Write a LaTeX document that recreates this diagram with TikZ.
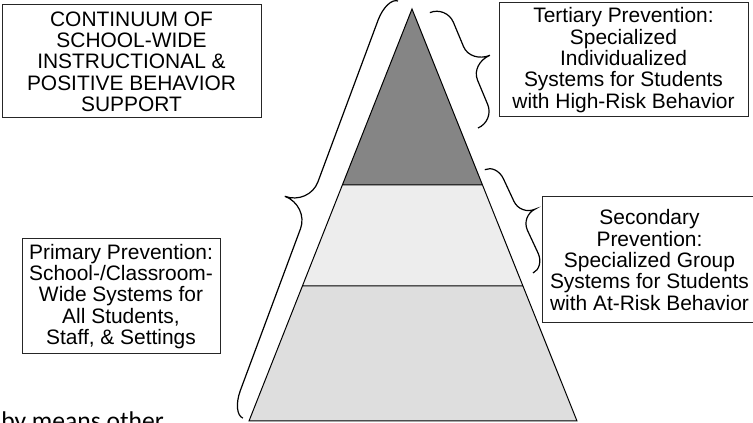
\documentclass[tikz,border=0pt]{standalone}
\usepackage{fontspec}
\setmainfont{Liberation Sans}
\newfontfamily\pagefont{Carlito}
\usetikzlibrary{calc}
\definecolor{tiertop}{gray}{0.52}
\definecolor{tiermid}{gray}{0.93}
\definecolor{tierlow}{gray}{0.87}
\newcommand{\bracepath}[4]{%
  (0,0) .. controls (0,0.55*#2) and (0.45*#4,#2) .. (#4,#2)
  -- (0.5*#1-#4,#2) .. controls (0.5*#1-0.45*#4,#2) and (0.5*#1,#3-0.55*#3+0.55*#2) .. (0.5*#1,#3)
  .. controls (0.5*#1,#3-0.55*#3+0.55*#2) and (0.5*#1+0.45*#4,#2) .. (0.5*#1+#4,#2)
  -- (#1-#4,#2) .. controls (#1-0.45*#4,#2) and (#1,0.55*#2) .. (#1,0)
}

\begin{document}
\begin{tikzpicture}[x=0.75pt,y=-0.75pt,
   boxnode/.style={draw=black!85,line width=0.75pt,align=center,inner sep=0pt,
     font=\fontsize{15.7}{16}\selectfont},
   bracestroke/.style={line width=0.9pt}]
   \useasboundingbox (0,0) rectangle (753,423);
   \clip (0,0) rectangle (753,423);
   \coordinate (apex) at (412,9);
   \coordinate (bl) at (249,421);
   \coordinate (br) at (577,421);
   \coordinate (ul) at ($(apex)!0.427!(bl)$);
   \coordinate (ur) at ($(apex)!0.427!(br)$);
   \coordinate (ml) at ($(apex)!0.672!(bl)$);
   \coordinate (mr) at ($(apex)!0.672!(br)$);
   \fill[tierlow] (ml) -- (mr) -- (br) -- (bl) -- cycle;
   \fill[tiermid] (ul) -- (ur) -- (mr) -- (ml) -- cycle;
   \fill[tiertop] (apex) -- (ur) -- (ul) -- cycle;
   \draw[line width=0.75pt] (apex) -- (br) -- (bl) -- cycle (ul) -- (ur) (ml) -- (mr);
   \draw[bracestroke, shift={(398,1)}, rotate=-110.4] \bracepath{445}{12}{38}{25};
   \draw[bracestroke, shift={(478,128)}, rotate=112.65] \bracepath{125}{18}{39}{18};
   \draw[bracestroke, shift={(533,273)}, rotate=115] \bracepath{114}{13}{29}{16};
   \node[boxnode, minimum width=194.25pt, minimum height=84.75pt] (title) at (131.5,61.5)
     {CONTINUUM OF\\SCHOOL-WIDE\\INSTRUCTIONAL \&\\POSITIVE BEHAVIOR\\SUPPORT};
   \node[boxnode, minimum width=186.75pt, minimum height=85.5pt] (tertiary) at (623.5,60)
     {Tertiary Prevention:\\Specialized\\Individualized\\Systems for Students\\with High-Risk Behavior};
   \node[boxnode, minimum width=161.25pt, minimum height=94.5pt] (secondary) at (649.5,260)
     {Secondary\\Prevention:\\Specialized Group\\Systems for Students\\with At-Risk Behavior};
   \node[boxnode, minimum width=148.5pt, minimum height=86.25pt] (primary) at (121,296.5)
     {Primary Prevention:\\School-/Classroom-\\Wide Systems for\\All Students,\\Staff, \& Settings};
   \node[anchor=base west, inner sep=0pt, font=\pagefont\fontsize{19.2}{20}\selectfont]
     (pagetext) at (1,430) {by means other};
\end{tikzpicture}
\end{document}
